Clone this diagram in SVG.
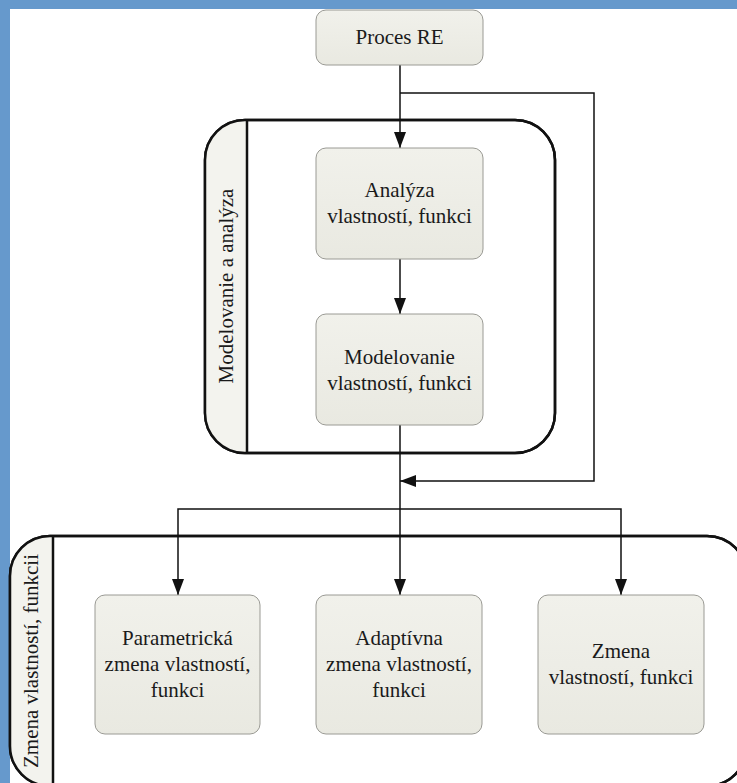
<svg xmlns="http://www.w3.org/2000/svg" width="737" height="783" viewBox="0 0 737 783">
  <style>
    .node { fill: url(#nodeFill); stroke: #9a9a94; stroke-width: 1; }
    .lane { fill: #ffffff; stroke: #111111; stroke-width: 2.5; }
    .band { fill: #f3f3ee; }
    .divider { stroke: #111111; stroke-width: 2.5; fill: none; }
    .label { font-family: "Liberation Serif", "Times New Roman", serif; font-size: 21px; fill: #1a1a1a; text-anchor: middle; }
    .wire { fill: none; stroke: #111111; stroke-width: 1.5; }
  </style>
  <defs>
    <linearGradient id="nodeFill" x1="0" y1="0" x2="0" y2="1">
      <stop offset="0" stop-color="#f1f1eb"/>
      <stop offset="1" stop-color="#e9e9e1"/>
    </linearGradient>
    <marker id="arrow" markerWidth="16" markerHeight="12" refX="16" refY="6" orient="auto" markerUnits="userSpaceOnUse">
      <path d="M0,0 L16,6 L0,12 Z" fill="#111111"/>
    </marker>
    <clipPath id="upperBand">
      <rect x="205" y="120" width="350" height="333" rx="40"/>
    </clipPath>
    <clipPath id="lowerBand">
      <rect x="10" y="536" width="737" height="250" rx="40"/>
    </clipPath>
  </defs>

  <!-- page frame -->
  <rect x="0" y="0" width="737" height="783" fill="#6699cc"/>
  <rect x="10" y="9" width="727" height="774" fill="#ffffff"/>

  <!-- swimlane: modelling and analysis -->
  <g id="lane-modelovanie">
    <rect class="lane" x="205" y="120" width="350" height="333" rx="40"/>
    <rect class="band" x="205" y="120" width="42" height="333" clip-path="url(#upperBand)"/>
    <rect x="205" y="120" width="350" height="333" rx="40" fill="none" stroke="#111111" stroke-width="2.5"/>
    <line class="divider" x1="247" y1="120" x2="247" y2="453"/>
    <text class="label" transform="translate(233,286) rotate(-90)">Modelovanie a analýza</text>
  </g>

  <!-- swimlane: change of properties -->
  <g id="lane-zmena">
    <rect class="lane" x="10" y="536" width="737" height="250" rx="40"/>
    <rect class="band" x="10" y="536" width="43" height="250" clip-path="url(#lowerBand)"/>
    <rect x="10" y="536" width="737" height="250" rx="40" fill="none" stroke="#111111" stroke-width="2.5"/>
    <line class="divider" x1="53" y1="536" x2="53" y2="786"/>
    <text class="label" transform="translate(38,661) rotate(-90)">Zmena vlastností, funkcii</text>
  </g>

  <!-- connectors -->
  <g id="connectors">
    <path class="wire" d="M400,65 L400,148" marker-end="url(#arrow)"/>
    <path class="wire" d="M400,93 L594,93 L594,481 L400,481" marker-end="url(#arrow)"/>
    <path class="wire" d="M400,259 L400,314" marker-end="url(#arrow)"/>
    <path class="wire" d="M400,425 L400,595" marker-end="url(#arrow)"/>
    <path class="wire" d="M400,509 L178,509 L178,595" marker-end="url(#arrow)"/>
    <path class="wire" d="M400,509 L621,509 L621,595" marker-end="url(#arrow)"/>
  </g>

  <g id="proces-re">
    <rect class="node" x="316" y="10" width="167" height="55" rx="10"/>
    <text class="label" x="399.5" y="44">Proces RE</text>
  </g>

  <g id="analyza">
    <rect class="node" x="316" y="148" width="167" height="111" rx="10"/>
    <text class="label" x="399.5" y="197">Analýza</text>
    <text class="label" x="399.5" y="223">vlastností, funkci</text>
  </g>

  <g id="modelovanie">
    <rect class="node" x="316" y="314" width="167" height="111" rx="10"/>
    <text class="label" x="399.5" y="364">Modelovanie</text>
    <text class="label" x="399.5" y="390">vlastností, funkci</text>
  </g>

  <g id="parametricka-zmena">
    <rect class="node" x="95" y="595" width="165" height="139" rx="10"/>
    <text class="label" x="177.5" y="645">Parametrická</text>
    <text class="label" x="177.5" y="671">zmena vlastností,</text>
    <text class="label" x="177.5" y="697">funkci</text>
  </g>

  <g id="adaptivna-zmena">
    <rect class="node" x="316" y="595" width="166" height="139" rx="10"/>
    <text class="label" x="399" y="645">Adaptívna</text>
    <text class="label" x="399" y="671">zmena vlastností,</text>
    <text class="label" x="399" y="697">funkci</text>
  </g>

  <g id="zmena">
    <rect class="node" x="538" y="595" width="166" height="139" rx="10"/>
    <text class="label" x="621" y="658">Zmena</text>
    <text class="label" x="621" y="684">vlastností, funkci</text>
  </g>
</svg>
